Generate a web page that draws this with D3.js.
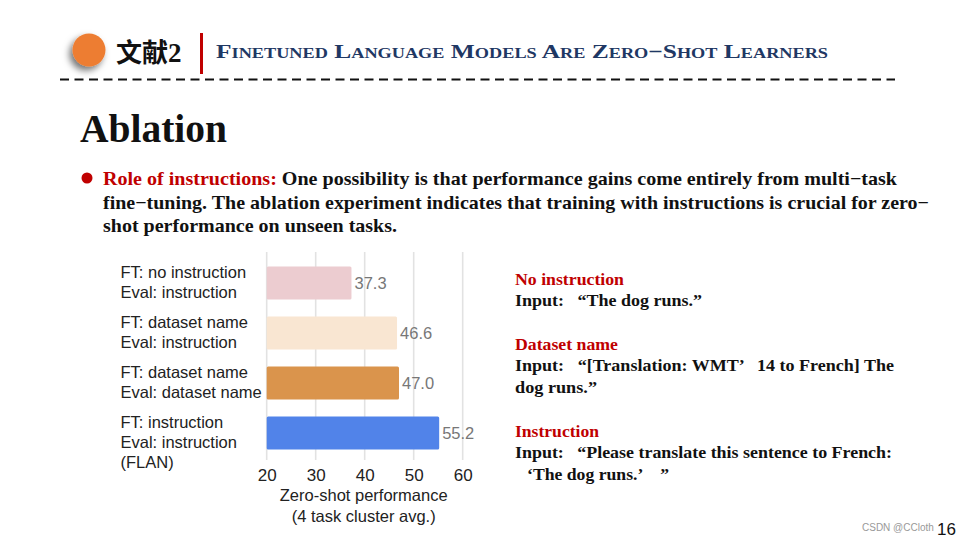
<!DOCTYPE html>
<html>
<head>
<meta charset="utf-8">
<script src="https://cdn.jsdelivr.net/npm/d3@7"></script>
<style>
  html, body { margin: 0; padding: 0; background: #fff; }
  svg { display: block; }
</style>
</head>
<body>
<svg id="slide" width="960" height="540"></svg>
<script>
// ---- data ----
const categories = [
  ["FT: no instruction", "Eval: instruction"],
  ["FT: dataset name", "Eval: instruction"],
  ["FT: dataset name", "Eval: dataset name"],
  ["FT: instruction", "Eval: instruction", "(FLAN)"]
];
const values = [37.3, 46.6, 47.0, 55.2];
const valueLabels = ["37.3", "46.6", "47.0", "55.2"];
const xTicks = [20, 30, 40, 50, 60];
const xDomain = [20, 60];
const axisTitle = ["Zero-shot performance", "(4 task cluster avg.)"];
const barColors = ["#ecccd0", "#f9e6d2", "#da944c", "#5183e9"];

const svg = d3.select("#slide");
const serif = "'Liberation Serif', 'Times New Roman', serif";
const sans = "'Liberation Sans', Arial, Helvetica, sans-serif";

// ---- header ----
const defs = svg.append("defs");
const f = defs.append("filter").attr("id", "shadow").attr("x", "-60%").attr("y", "-60%").attr("width", "220%").attr("height", "220%");
f.append("feDropShadow").attr("dx", -3).attr("dy", 4).attr("stdDeviation", 3.5).attr("flood-color", "#000").attr("flood-opacity", 0.55);

svg.append("circle").attr("cx", 89).attr("cy", 50).attr("r", 16.5)
  .attr("fill", "#ed7d31").attr("filter", "url(#shadow)");

const t1 = svg.append("text").attr("x", 116).attr("y", 62).attr("font-weight", "bold").attr("fill", "#111");
t1.append("tspan").attr("font-family", "'Noto Sans CJK SC', sans-serif").attr("font-size", 26).text("文献");
t1.append("tspan").attr("font-family", serif).attr("font-size", 27).text("2");

svg.append("rect").attr("x", 200).attr("y", 33).attr("width", 3).attr("height", 41).attr("fill", "#c00000");

svg.append("text").attr("x", 216).attr("y", 58)
  .attr("font-family", serif).attr("font-weight", "bold").attr("font-size", 19.5)
  .attr("fill", "#1f3864").style("font-variant", "small-caps")
  .attr("textLength", 612).attr("lengthAdjust", "spacingAndGlyphs")
  .text("Finetuned Language Models Are Zero\u2212Shot Learners");

svg.append("line").attr("x1", 60).attr("x2", 895).attr("y1", 79.5).attr("y2", 79.5)
  .attr("stroke", "#111").attr("stroke-width", 2).attr("stroke-dasharray", "9,5.5");

// ---- title ----
svg.append("text").attr("x", 80).attr("y", 142)
  .attr("font-family", serif).attr("font-weight", "bold").attr("font-size", 39.5).attr("fill", "#111")
  .text("Ablation");

// ---- bullet ----
svg.append("circle").attr("cx", 87).attr("cy", 178).attr("r", 5.5).attr("fill", "#c00000");
const bodyLines = [
  {y: 185, len: 794, parts: [["Role of instructions:", "#c00000"], [" One possibility is that performance gains come entirely from multi\u2212task", "#111"]]},
  {y: 209, len: 826, parts: [["fine\u2212tuning. The ablation experiment indicates that training with instructions is crucial for zero\u2212", "#111"]]},
  {y: 232, len: 294, parts: [["shot performance on unseen tasks.", "#111"]]}
];
bodyLines.forEach(l => {
  const t = svg.append("text").attr("x", 103).attr("y", l.y)
    .attr("font-family", serif).attr("font-weight", "bold").attr("font-size", 19)
    .attr("textLength", l.len).attr("lengthAdjust", "spacingAndGlyphs");
  l.parts.forEach(p => t.append("tspan").attr("fill", p[1]).text(p[0]));
});

// ---- chart ----
const x = d3.scaleLinear().domain(xDomain).range([266.7, 462.7]);
const y = d3.scaleBand().domain(d3.range(categories.length)).range([258, 458]).paddingInner(0.34).paddingOuter(0.17);

const chart = svg.append("g");
// gridlines
chart.append("g").selectAll("line").data(xTicks).join("line")
  .attr("x1", d => x(d)).attr("x2", d => x(d)).attr("y1", 252).attr("y2", 460)
  .attr("stroke", "#e2e2e2").attr("stroke-width", 1.6);

chart.append("g").selectAll("rect").data(values).join("rect")
  .attr("x", x(xDomain[0])).attr("y", (d, i) => y(i))
  .attr("width", d => x(d) - x(xDomain[0])).attr("height", y.bandwidth())
  .attr("rx", 1.5).attr("fill", (d, i) => barColors[i]);

chart.append("g").selectAll("text").data(values).join("text")
  .attr("x", d => x(d) + 3).attr("y", (d, i) => y(i) + y.bandwidth() / 2 + 6)
  .attr("font-family", sans).attr("font-size", 16.5).attr("fill", "#777")
  .text((d, i) => valueLabels[i]);

// category labels
const cat = chart.append("g").selectAll("text").data(categories).join("text")
  .attr("font-family", sans).attr("font-size", 16.5).attr("fill", "#222");
cat.each(function(lines, i) {
  const yc = y(i) + y.bandwidth() / 2;
  d3.select(this).selectAll("tspan").data(lines).join("tspan")
    .attr("x", 120.5).attr("y", (d, j) => yc - 5 + j * 20).text(d => d);
});

// x axis
const xAxis = d3.axisBottom(x).tickValues(xTicks).tickSize(0).tickPadding(0).tickFormat(d3.format("d"));
const ax = chart.append("g").attr("transform", "translate(0,471)").call(xAxis);
ax.select(".domain").remove();
ax.selectAll("text").attr("font-family", sans).attr("font-size", 17).attr("fill", "#222").attr("dy", "0.6em");

chart.append("g").selectAll("text").data(axisTitle).join("text")
  .attr("x", (x.range()[0] + x.range()[1]) / 2 - 1).attr("y", (d, i) => 501 + i * 21)
  .attr("text-anchor", "middle").attr("font-family", sans).attr("font-size", 16.5).attr("fill", "#222")
  .text(d => d);

// ---- right side examples ----
const ex = [
  {y: 285, len: 109, text: "No instruction", red: true},
  {y: 306, len: 187, text: "Input: \u2002\u201CThe dog runs.\u201D"},
  {y: 350, len: 103, text: "Dataset name", red: true},
  {y: 371, len: 379, text: "Input: \u2002\u201C[Translation: WMT\u2019 \u200214 to French] The"},
  {y: 393, len: 82, text: "dog runs.\u201D"},
  {y: 437, len: 84, text: "Instruction", red: true},
  {y: 458, len: 377, text: "Input: \u2002\u201CPlease translate this sentence to French:"},
  {y: 480, len: 142, x: 527, text: "\u2018The dog runs.\u2019\u3000\u201D"}
];
svg.append("g").selectAll("text").data(ex).join("text")
  .attr("x", d => d.x || 515).attr("y", d => d.y)
  .attr("font-family", serif).attr("font-weight", "bold").attr("font-size", 17.5)
  .attr("fill", d => d.red ? "#c00000" : "#111")
  .attr("textLength", d => d.len).attr("lengthAdjust", "spacingAndGlyphs")
  .style("white-space", "pre")
  .text(d => d.text);

// ---- footer ----
svg.append("text").attr("x", 862).attr("y", 531).attr("font-family", sans).attr("font-size", 10).attr("fill", "#999").text("CSDN @CCloth");
svg.append("text").attr("x", 937).attr("y", 535).attr("font-family", sans).attr("font-size", 17).attr("fill", "#111").text("16");
</script>
</body>
</html>
